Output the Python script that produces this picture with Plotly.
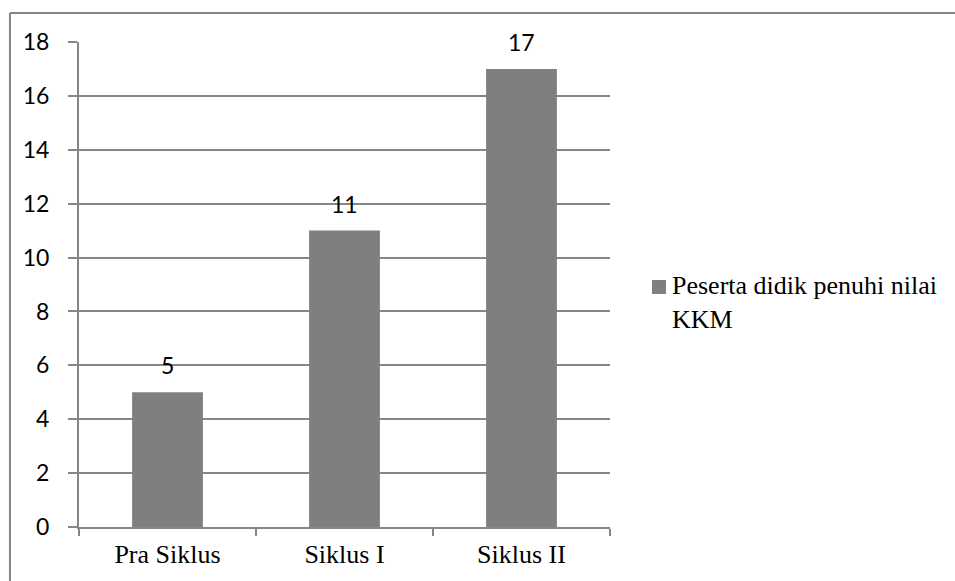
import plotly.graph_objects as go

# Data
categories = ["Pra Siklus", "Siklus I", "Siklus II"]
values = [5, 11, 17]
series_lines = ["Peserta didik penuhi nilai", "KKM"]

GRAY_BAR = "#7f7f7f"
GRAY_LINE = "#868686"
SANS = "Lato, Open Sans, sans-serif"
SERIF = "Liberation Serif, Times New Roman, serif"

fig = go.Figure()
fig.add_trace(go.Bar(
    x=categories,
    y=values,
    name=" ".join(series_lines),
    marker=dict(color=GRAY_BAR, line=dict(width=0)),
    showlegend=False,
))

# value labels above each bar
for c, v in zip(categories, values):
    fig.add_annotation(
        x=c, y=v, text=str(v), showarrow=False,
        yanchor="bottom", yshift=11,
        font=dict(family=SANS, size=23, color="#000000"),
    )

# legend: swatch plus two-line label at the right of the plot
fig.add_shape(type="rect", xref="paper", yref="paper",
              x0=1.0791, x1=1.1055, y0=0.4804, y1=0.5093,
              fillcolor=GRAY_BAR, line=dict(width=0))
fig.add_annotation(
    xref="paper", yref="paper", x=1.113, y=0.4619,
    xanchor="left", yanchor="middle", showarrow=False,
    text="<br>".join(series_lines), align="left",
    font=dict(family=SERIF, size=26, color="#000000"),
)

# outer chart frame (left and top edges)
fig.add_shape(type="line", xref="paper", yref="paper",
              x0=-0.13, x1=2.0, y0=1.0598, y1=1.0598,
              line=dict(color=GRAY_LINE, width=2))
fig.add_shape(type="line", xref="paper", yref="paper",
              x0=-0.13, x1=-0.13, y0=-0.3, y1=1.0598,
              line=dict(color=GRAY_LINE, width=2))

fig.update_layout(
    width=955, height=581,
    margin=dict(l=79, r=345, t=42, b=54),
    paper_bgcolor="white", plot_bgcolor="white",
    bargap=0.6,
    showlegend=False,
    xaxis=dict(
        type="category",
        showline=True, linecolor=GRAY_LINE, linewidth=2,
        ticks="outside", ticklen=7, tickcolor=GRAY_LINE, tickwidth=2,
        tickson="boundaries",
        showgrid=False,
        tickfont=dict(family=SERIF, size=26, color="#000000"),
        ticklabelstandoff=3,
    ),
    yaxis=dict(
        range=[0, 18], dtick=2,
        showline=True, linecolor=GRAY_LINE, linewidth=2,
        ticks="outside", ticklen=9, tickcolor=GRAY_LINE, tickwidth=2,
        showgrid=True, gridcolor=GRAY_LINE, gridwidth=2,
        zeroline=False,
        tickfont=dict(family=SANS, size=23, color="#000000"),
        ticklabelstandoff=14,
    ),
)

fig.write_html("out.html")
